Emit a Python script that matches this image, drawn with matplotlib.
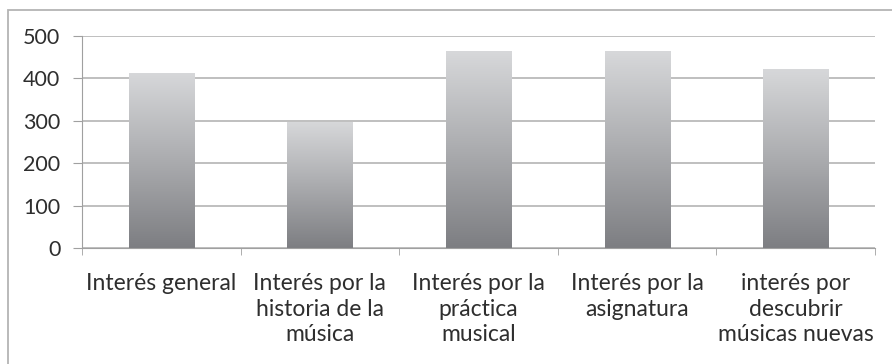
import numpy as np
import matplotlib.pyplot as plt
from matplotlib.patches import Rectangle
from matplotlib.colors import LinearSegmentedColormap

# datos
categorias = ['Interés general', 'Interés por la\nhistoria de la\nmúsica',
              'Interés por la\npráctica\nmusical', 'Interés por la\nasignatura',
              'interés por\ndescubrir\nmúsicas nuevas']
valores = [413, 298, 464, 464, 423]
ticks_y = [0, 100, 200, 300, 400, 500]

plt.rcParams['font.family'] = ['Lato', 'DejaVu Sans']

fig = plt.figure(figsize=(8.92, 3.64), dpi=100)
ax = fig.add_axes([82/892, 1 - 248/364, (875 - 82)/892, (248 - 36)/364])

x = np.arange(len(valores))
barras = ax.bar(x, valores, width=0.41, color='none', zorder=3)

# degradado gris de arriba (claro) a abajo (oscuro)
cmap = LinearSegmentedColormap.from_list('gris', ['#7d7e82', '#abacaf', '#d7d8da'])
grad = np.linspace(0, 1, 256).reshape(-1, 1)
for b in barras:
    x0, y0 = b.get_x(), b.get_y()
    im = ax.imshow(grad, cmap=cmap, origin='lower', aspect='auto',
                   extent=[x0, x0 + b.get_width(), y0, y0 + b.get_height()], zorder=3)
    im.set_clip_path(b)

ax.set_xlim(-0.5, len(valores) - 0.5)
ax.set_ylim(0, 500)
ax.set_yticks(ticks_y)
ax.set_yticklabels([str(t) for t in ticks_y], fontsize=15.5, color='#2e2e2e')
ax.set_xticks(x)
ax.set_xticklabels(categorias, fontsize=16.5, color='#2e2e2e', linespacing=1.27)
ax.tick_params(axis='x', length=0, pad=18)
ax.tick_params(axis='y', length=6.5, color='#a0a0a0', pad=9)

# marcas entre categorías
ax.set_xticks(np.arange(-0.5, len(valores)), minor=True)
ax.tick_params(axis='x', which='minor', length=5, color='#a0a0a0', direction='out')

ax.grid(axis='y', color='#b4b4b4', linewidth=1.2, zorder=0)
for lado in ['top', 'right']:
    ax.spines[lado].set_visible(False)
ax.spines['left'].set_color('#a0a0a0')
ax.spines['bottom'].set_color('#a0a0a0')

# marco exterior del gráfico
fig.patches.append(Rectangle((8/892, -0.1), 1.1, 1 - 10/364 + 0.1,
                             transform=fig.transFigure, fill=False,
                             edgecolor='#b4b4b4', linewidth=1.3))

fig.savefig('out.png', dpi=100)
